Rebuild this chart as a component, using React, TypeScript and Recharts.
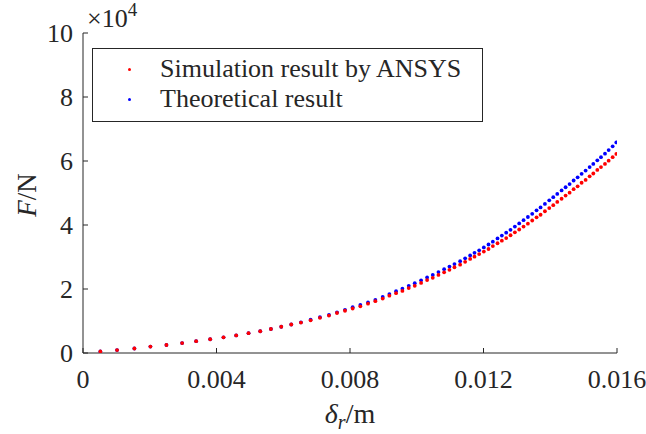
import React from 'react';
import { ScatterChart, Scatter, XAxis, YAxis } from 'recharts';

// radial deflection δr (m)
const deltaR = [
  0.00052, 0.00102, 0.00154, 0.00202, 0.0025, 0.00297, 0.00339, 0.00381, 0.00421, 0.00459,
  0.00496, 0.00531, 0.00563, 0.00594, 0.00624, 0.00653, 0.00682, 0.0071, 0.00737, 0.00761,
  0.00785, 0.00808, 0.00831, 0.00854, 0.00876, 0.00898, 0.00918, 0.00938, 0.00957, 0.00976,
  0.00994, 0.01013, 0.01031, 0.01048, 0.01065, 0.01082, 0.01098, 0.01113, 0.0113, 0.01145,
  0.0116, 0.01173, 0.01187, 0.01201, 0.01215, 0.01228, 0.01242, 0.01255, 0.01268, 0.01281,
  0.01294, 0.01307, 0.0132, 0.01333, 0.01346, 0.01359, 0.01371, 0.01384, 0.01397, 0.01409,
  0.01421, 0.01434, 0.01446, 0.01458, 0.0147, 0.01482, 0.01494, 0.01506, 0.01518, 0.01529,
  0.01541, 0.01552, 0.01564, 0.01575, 0.01587, 0.01598,
];

// force F, in units of 1e4 N
const simulationF = [
  0.05, 0.09, 0.14, 0.2, 0.25, 0.31, 0.37, 0.43, 0.49, 0.55,
  0.62, 0.68, 0.75, 0.82, 0.89, 0.95, 1.02, 1.1, 1.17, 1.25,
  1.32, 1.39, 1.46, 1.54, 1.62, 1.7, 1.79, 1.87, 1.94, 2.03,
  2.1, 2.19, 2.28, 2.35, 2.44, 2.52, 2.6, 2.68, 2.76, 2.85,
  2.94, 3.01, 3.09, 3.17, 3.25, 3.34, 3.43, 3.51, 3.59, 3.68,
  3.77, 3.86, 3.95, 4.04, 4.14, 4.24, 4.32, 4.43, 4.53, 4.62,
  4.72, 4.82, 4.92, 5.01, 5.12, 5.21, 5.32, 5.41, 5.52, 5.61,
  5.72, 5.81, 5.91, 6.01, 6.12, 6.22,
];

const theoreticalF = [
  0.05, 0.09, 0.14, 0.2, 0.25, 0.31, 0.37, 0.43, 0.49, 0.55,
  0.62, 0.68, 0.75, 0.82, 0.89, 0.96, 1.04, 1.12, 1.19, 1.27,
  1.35, 1.43, 1.5, 1.58, 1.66, 1.75, 1.84, 1.93, 2.01, 2.1,
  2.18, 2.27, 2.36, 2.44, 2.53, 2.62, 2.7, 2.78, 2.87, 2.96,
  3.05, 3.13, 3.21, 3.3, 3.39, 3.48, 3.58, 3.67, 3.76, 3.85,
  3.95, 4.05, 4.15, 4.25, 4.35, 4.46, 4.55, 4.66, 4.77, 4.87,
  4.97, 5.08, 5.18, 5.28, 5.39, 5.49, 5.6, 5.7, 5.81, 5.91,
  6.02, 6.12, 6.23, 6.34, 6.46, 6.58,
];

const xTicks = [0, 0.004, 0.008, 0.012, 0.016];
const yTicks = [0, 2, 4, 6, 8, 10];

const AXIS = '#262626';
const FONT = "'Liberation Serif', 'Times New Roman', serif";
const RED = '#ff0000';
const BLUE = '#0000ff';

const simData = deltaR.map((x, i) => ({ x, y: simulationF[i] }));
const theoData = deltaR.map((x, i) => ({ x, y: theoreticalF[i] }));

const dot = (color: string) => (p: any) => <circle cx={p.cx} cy={p.cy} r={1.9} fill={color} />;

function XTick({ x, y, payload }: any) {
  return (
    <g>
      <line x1={x} x2={x} y1={y} y2={y - 5} stroke={AXIS} />
      <text x={x} y={y + 35} textAnchor="middle" fill={AXIS} style={{ fontSize: 26, fontFamily: FONT }}>
        {String(payload.value)}
      </text>
    </g>
  );
}

function YTick({ x, y, payload }: any) {
  return (
    <g>
      <line x1={x} x2={x + 5} y1={y} y2={y} stroke={AXIS} />
      <text x={x - 10} y={y + 9} textAnchor="end" fill={AXIS} style={{ fontSize: 26, fontFamily: FONT }}>
        {String(payload.value)}
      </text>
    </g>
  );
}

export default function App() {
  return (
    <div style={{ position: 'absolute', left: 0, top: 0, width: 646, height: 434, background: '#fff', fontFamily: FONT, color: AXIS }}>
      <ScatterChart width={646} height={434} margin={{ top: 33, right: 29, bottom: 0, left: 0 }}>
        <XAxis
          xAxisId="b"
          type="number"
          dataKey="x"
          domain={[0, 0.016]}
          ticks={xTicks}
          height={81}
          tickSize={0}
          tickMargin={0}
          tickLine={false}
          tick={<XTick />}
          axisLine={{ stroke: AXIS }}
          allowDataOverflow
        />
        <XAxis
          xAxisId="t"
          orientation="top"
          type="number"
          dataKey="x"
          domain={[0, 0.016]}
          ticks={xTicks}
          height={0}
          mirror
          tick={false}
          tickSize={5}
          tickLine={{ stroke: AXIS }}
          axisLine={{ stroke: AXIS }}
          allowDataOverflow
        />
        <YAxis
          yAxisId="l"
          type="number"
          dataKey="y"
          domain={[0, 10]}
          ticks={yTicks}
          width={83}
          tickSize={0}
          tickMargin={0}
          tickLine={false}
          tick={<YTick />}
          axisLine={{ stroke: AXIS }}
          allowDataOverflow
        />
        <YAxis
          yAxisId="r"
          orientation="right"
          type="number"
          dataKey="y"
          domain={[0, 10]}
          ticks={yTicks}
          width={0}
          mirror
          tick={false}
          tickSize={5}
          tickLine={{ stroke: AXIS }}
          axisLine={{ stroke: AXIS }}
          allowDataOverflow
        />
        <Scatter xAxisId="b" yAxisId="l" data={theoData} fill={BLUE} shape={dot(BLUE)} isAnimationActive={false} />
        <Scatter xAxisId="b" yAxisId="l" data={simData} fill={RED} shape={dot(RED)} isAnimationActive={false} />
      </ScatterChart>

      {/* ×10^4 exponent label */}
      <div style={{ position: 'absolute', left: 87, top: 4, fontSize: 26, lineHeight: '30px', whiteSpace: 'nowrap' }}>
        ×10<span style={{ fontSize: 19, position: 'relative', top: -11 }}>4</span>
      </div>

      {/* y title */}
      <div
        style={{
          position: 'absolute',
          left: 27,
          top: 195,
          transform: 'translate(-50%, -50%) rotate(-90deg)',
          fontSize: 27,
          whiteSpace: 'nowrap',
        }}
      >
        <i>F</i>/N
      </div>

      {/* x title */}
      <div
        style={{
          position: 'absolute',
          left: 350,
          top: 399,
          transform: 'translateX(-50%)',
          fontSize: 28,
          lineHeight: '30px',
          whiteSpace: 'nowrap',
        }}
      >
        <i>δ</i>
        <i style={{ fontSize: 20, position: 'relative', top: 6 }}>r</i>/m
      </div>

      {/* legend */}
      <div
        style={{
          position: 'absolute',
          left: 92,
          top: 48,
          width: 389,
          height: 72,
          border: `1px solid ${AXIS}`,
          background: '#fff',
          fontSize: 26,
        }}
      >
        {[
          { label: 'Simulation result by ANSYS', color: RED, top: 20 },
          { label: 'Theoretical result', color: BLUE, top: 50 },
        ].map((it) => (
          <div key={it.label} style={{ position: 'absolute', left: 0, top: it.top - 15, height: 30, lineHeight: '30px', whiteSpace: 'nowrap' }}>
            <span
              style={{
                position: 'absolute',
                left: 35,
                top: 13.5,
                width: 3,
                height: 3,
                borderRadius: '50%',
                background: it.color,
              }}
            />
            <span style={{ position: 'absolute', left: 67 }}>{it.label}</span>
          </div>
        ))}
      </div>
    </div>
  );
}
